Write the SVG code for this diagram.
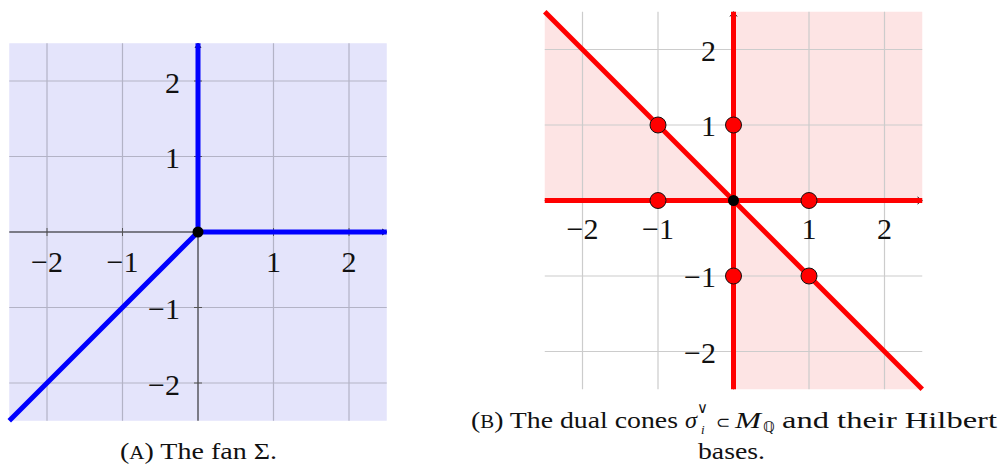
<svg xmlns="http://www.w3.org/2000/svg" width="1002" height="466" viewBox="0 0 1002 466">
<style>
  text { font-family: "Liberation Serif", "Times New Roman", serif; fill: #111; }
  .tick { font-size: 30px; }
  .cap { font-size: 24px; }
  .sym { font-family: "DejaVu Sans", sans-serif; }
  .gridA { stroke: #b3b3c6; stroke-width: 1.2; fill: none; }
  .gridB { stroke: #cccccc; stroke-width: 1.2; fill: none; }
  .axis { stroke: #111; stroke-width: 1; fill: none; }
  .tk { stroke: #555; stroke-width: 1; }
  .blue { stroke: #0000ff; stroke-width: 5; fill: none; }
  .red { stroke: #ff0000; stroke-width: 5; fill: none; }
  .pink { fill: #fde4e4; }
  .pt { fill: #ff0000; stroke: #111; stroke-width: 1; }
  .org { fill: #000; }
</style>
<rect width="1002" height="466" fill="#ffffff"/>

<g id="panelA">
  <rect x="9.25" y="43.25" width="377.5" height="377.5" fill="#e4e4fb"/>
  <g id="gridA" class="gridA">
    <path d="M47 43.25V420.75M122.5 43.25V420.75M273.5 43.25V420.75M349 43.25V420.75"/>
    <path d="M9.25 81H386.75M9.25 156.5H386.75M9.25 307.5H386.75M9.25 383H386.75"/>
  </g>
  <g id="axesA" class="axis">
    <path d="M9.25 232H386.75M198 420.75V43.25"/>
    <path d="M382 229 L386.75 232 L382 235"/>
    <path d="M195 48 L198 43.25 L201 48"/>
    <path class="tk" d="M47 228V236M122.5 228V236M273.5 228V236M349 228V236M194 81H202M194 156.5H202M194 307.5H202M194 383H202"/>
  </g>
  <g id="fanA" class="blue">
    <path d="M198 232V43.25"/>
    <path d="M198 232H386.75"/>
    <path d="M198 232L9.25 420.75"/>
  </g>
  <circle id="originA" class="org" cx="198" cy="232" r="5.5"/>
  <g id="labelsA">
    <text class="tick" x="47" y="271.5" text-anchor="middle">−2</text>
    <text class="tick" x="122.5" y="271.5" text-anchor="middle">−1</text>
    <text class="tick" x="273.5" y="271.5" text-anchor="middle">1</text>
    <text class="tick" x="349" y="271.5" text-anchor="middle">2</text>
    <text class="tick" x="180" y="92.5" text-anchor="end">2</text>
    <text class="tick" x="180" y="168" text-anchor="end">1</text>
    <text class="tick" x="180" y="319" text-anchor="end">−1</text>
    <text class="tick" x="180" y="394.5" text-anchor="end">−2</text>
  </g>
  <text id="captionA" class="cap" x="120" y="459" textLength="157" lengthAdjust="spacingAndGlyphs">(<tspan font-size="18">A</tspan>) The fan Σ.</text>
</g>

<g id="panelB">
  <g id="conesB" class="pink">
    <rect x="733.5" y="11.75" width="188.75" height="188.75"/>
    <polygon points="733.5,200.5 544.75,200.5 544.75,11.75"/>
    <polygon points="733.5,200.5 733.5,389.25 922.25,389.25"/>
  </g>
  <g id="gridB" class="gridB">
    <path d="M582.5 11.75V389.25M658 11.75V389.25M809 11.75V389.25M884.5 11.75V389.25"/>
    <path d="M544.75 49.5H922.25M544.75 125H922.25M544.75 276H922.25M544.75 351.5H922.25"/>
  </g>
  <g id="axesB" class="axis">
    <path d="M544.75 200.5H922.25M733.5 389.25V11.75"/>
    <path d="M917.5 197 L922.25 200.5 L917.5 204"/>
    <path d="M730 16.5 L733.5 11.75 L737 16.5"/>
  </g>
  <g id="raysB" class="red">
    <path d="M544.75 200.5H922.25"/>
    <path d="M733.5 11.75V389.25"/>
    <path d="M544.75 11.75L922.25 389.25"/>
  </g>
  <g id="hilbertB">
    <circle class="pt" cx="658" cy="125" r="8"/>
    <circle class="pt" cx="733.5" cy="125" r="8"/>
    <circle class="pt" cx="658" cy="200.5" r="8"/>
    <circle class="pt" cx="809" cy="200.5" r="8"/>
    <circle class="pt" cx="733.5" cy="276" r="8"/>
    <circle class="pt" cx="809" cy="276" r="8"/>
  </g>
  <circle id="originB" class="org" cx="733.5" cy="200.5" r="5.5"/>
  <g id="labelsB">
    <text class="tick" x="582.5" y="238.5" text-anchor="middle">−2</text>
    <text class="tick" x="658" y="238.5" text-anchor="middle">−1</text>
    <text class="tick" x="809" y="238.5" text-anchor="middle">1</text>
    <text class="tick" x="884.5" y="238.5" text-anchor="middle">2</text>
    <text class="tick" x="716" y="60.5" text-anchor="end">2</text>
    <text class="tick" x="716" y="136" text-anchor="end">1</text>
    <text class="tick" x="716" y="287" text-anchor="end">−1</text>
    <text class="tick" x="716" y="362.5" text-anchor="end">−2</text>
  </g>
  <g id="captionB">
    <text class="cap" x="471" y="428" textLength="207" lengthAdjust="spacingAndGlyphs">(<tspan font-size="18">B</tspan>) The dual cones</text>
    <text class="cap" x="685" y="428" font-style="italic" textLength="12" lengthAdjust="spacingAndGlyphs">σ</text>
    <text class="sym" x="697" y="413" font-size="15">∨</text>
    <text x="701" y="434" font-size="13" font-style="italic">i</text>
    <text class="sym" x="716" y="428" font-size="17">⊂</text>
    <text class="cap" x="735" y="428" font-style="italic" textLength="26" lengthAdjust="spacingAndGlyphs">M</text>
    <text class="sym" x="763" y="432" font-size="15">ℚ</text>
    <text class="cap" x="782" y="428" textLength="215" lengthAdjust="spacingAndGlyphs">and their Hilbert</text>
    <text class="cap" x="698" y="459" textLength="67" lengthAdjust="spacingAndGlyphs">bases.</text>
  </g>
</g>
</svg>
